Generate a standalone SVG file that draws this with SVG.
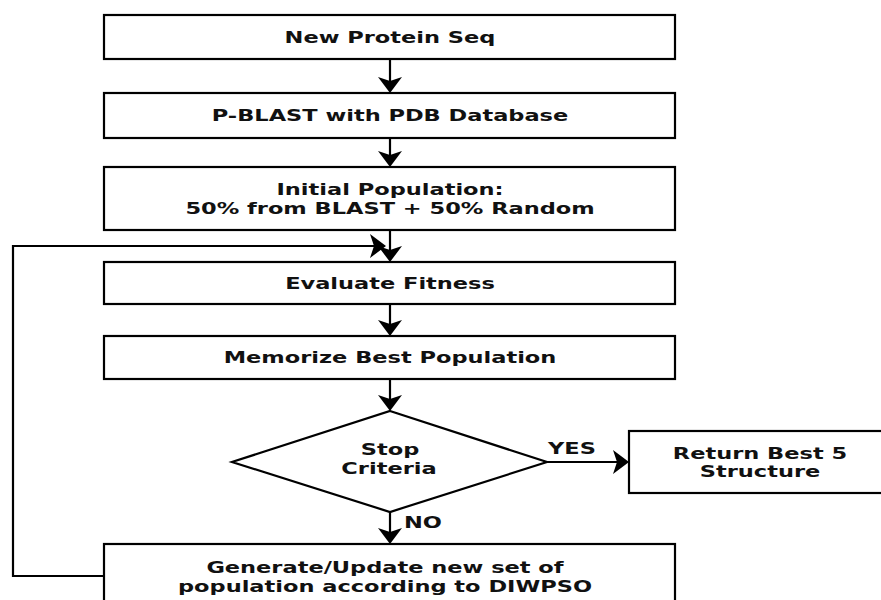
<svg xmlns="http://www.w3.org/2000/svg" width="881" height="600" viewBox="0 0 881 600">
<style>
.box{fill:#fff;stroke:#000;stroke-width:2.2}
.conn{fill:none;stroke:#000;stroke-width:2.2}
.t{font-family:"DejaVu Sans","Liberation Sans",sans-serif;font-weight:bold;font-size:15px;fill:#111;text-anchor:middle}
</style>
<defs>
<marker id="ah" viewBox="0 -12 16 24" markerWidth="16" markerHeight="24" refX="8" refY="0" orient="auto" markerUnits="userSpaceOnUse">
<path d="M16,0 L0,-12 L4,0 L0,12 Z" fill="#000"/>
</marker>
</defs>
<rect width="881" height="600" fill="#fff"/>
<g id="connectors">
<line class="conn" x1="390" y1="59" x2="390" y2="85" marker-end="url(#ah)"/>
<line class="conn" x1="390" y1="138" x2="390" y2="159" marker-end="url(#ah)"/>
<line class="conn" x1="390" y1="230" x2="390" y2="254" marker-end="url(#ah)"/>
<line class="conn" x1="390" y1="304" x2="390" y2="328" marker-end="url(#ah)"/>
<line class="conn" x1="390" y1="379" x2="390" y2="403" marker-end="url(#ah)"/>
<line class="conn" x1="547" y1="462" x2="621" y2="462" marker-end="url(#ah)"/>
<line class="conn" x1="390" y1="512" x2="390" y2="536" marker-end="url(#ah)"/>
<path class="conn" d="M104,576 H13 V246 H378" marker-end="url(#ah)"/>
<text class="t" transform="translate(572,454) scale(1.5,1)">YES</text>
<text class="t" transform="translate(423,528) scale(1.5,1)">NO</text>
</g>
<g id="new-protein-seq">
<rect class="box" x="104" y="15" width="571" height="44"/>
<text class="t" transform="translate(390,42.5) scale(1.5,1)">New Protein Seq</text>
</g>
<g id="pblast">
<rect class="box" x="104" y="93" width="571" height="45"/>
<text class="t" transform="translate(390,121) scale(1.5,1)">P-BLAST with PDB Database</text>
</g>
<g id="initial-population">
<rect class="box" x="104" y="167" width="571" height="63"/>
<text class="t" transform="translate(390,195) scale(1.5,1)">Initial Population:</text>
<text class="t" transform="translate(390,214) scale(1.5,1)">50% from BLAST + 50% Random</text>
</g>
<g id="evaluate-fitness">
<rect class="box" x="104" y="262" width="571" height="42"/>
<text class="t" transform="translate(390,288.5) scale(1.5,1)">Evaluate Fitness</text>
</g>
<g id="memorize-best">
<rect class="box" x="104" y="336" width="571" height="43"/>
<text class="t" transform="translate(390,363) scale(1.5,1)">Memorize Best Population</text>
</g>
<g id="stop-criteria">
<polygon class="box" points="390,411 547,462 390,512 232,462"/>
<text class="t" transform="translate(390,455) scale(1.5,1)">Stop</text>
<text class="t" transform="translate(389,474) scale(1.5,1)">Criteria</text>
</g>
<g id="return-best">
<rect class="box" x="629" y="431" width="262" height="62"/>
<text class="t" transform="translate(760,459) scale(1.5,1)">Return Best 5</text>
<text class="t" transform="translate(760,477) scale(1.5,1)">Structure</text>
</g>
<g id="generate-update">
<rect class="box" x="104" y="544" width="571" height="70"/>
<text class="t" transform="translate(385,573) scale(1.5,1)">Generate/Update new set of</text>
<text class="t" transform="translate(385,592) scale(1.5,1)">population according to DIWPSO</text>
</g>
</svg>
